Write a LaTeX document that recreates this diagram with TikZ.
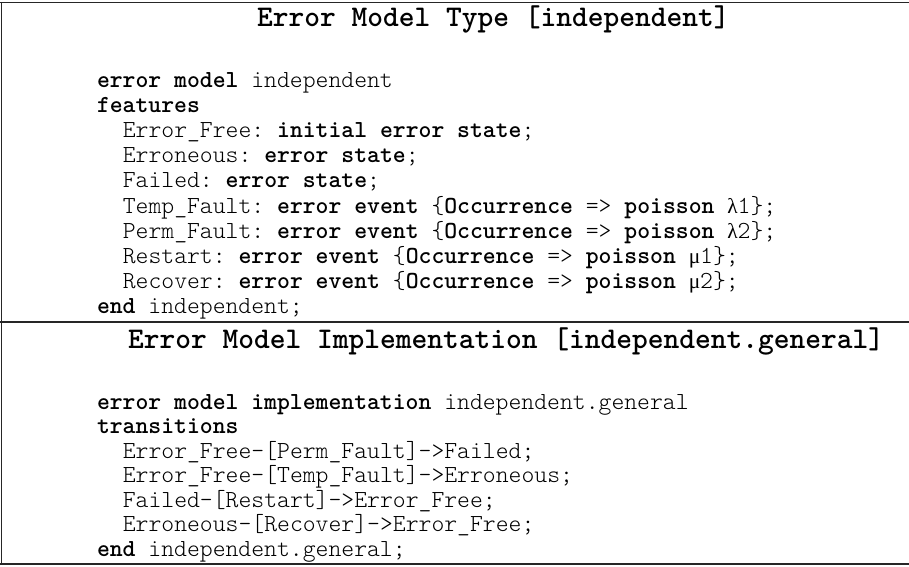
\documentclass[tikz,border=0pt]{standalone}
\usepackage{fontspec}
\setmonofont{lmmonolt10-regular.otf}[BoldFont=lmmonolt10-bold.otf]
\newfontfamily\greekfont{Liberation Serif}
\newcommand{\kw}[1]{\textbf{#1}}
\newcommand{\gk}[1]{{\greekfont\fontsize{21.4}{24}\selectfont #1}}
\tikzset{
  codeline/.style={anchor=base west, inner sep=0pt, outer sep=0pt,
    font=\ttfamily\fontsize{24.5}{28}\selectfont},
  titleline/.style={anchor=base west, inner sep=0pt, outer sep=0pt,
    font=\ttfamily\fontsize{30}{34}\selectfont\bfseries},
  rule/.style={line width=1.4pt, draw=black!85},
  siderule/.style={line width=1pt, draw=black!85}
}
\begin{document}
\begin{tikzpicture}[x=1pt,y=-1pt]
  \useasboundingbox (0,0) rectangle (909,566);
  % frame: top, separator, bottom and left edge
  \coordinate (tl) at (0,2.5);
  \coordinate (tr) at (909,2.5);
  \coordinate (ml) at (0,322);
  \coordinate (mr) at (909,322);
  \coordinate (bl) at (0,564);
  \coordinate (br) at (909,564);
  \coordinate (lt) at (1,2);
  \coordinate (lb) at (1,565);
  \draw[rule] (tl) -- (tr);
  \draw[rule] (ml) -- (mr);
  \draw[rule] (bl) -- (br);
  \draw[siderule] (lt) -- (lb);

  % error model type
  \node[titleline] (t1) at (257,26) {Error Model Type [independent]};
  \def\xa{97}\def\xb{122.8}\def\ya{87}\def\dy{25.2}
  \node[codeline] (a1) at (\xa,\ya) {\kw{error model} independent};
  \node[codeline] (a2) at (\xa,\ya+\dy) {\kw{features}};
  \node[codeline] (a3) at (\xb,\ya+2*\dy) {Error\_Free: \kw{initial error state};};
  \node[codeline] (a4) at (\xb,\ya+3*\dy) {Erroneous: \kw{error state};};
  \node[codeline] (a5) at (\xb,\ya+4*\dy) {Failed: \kw{error state};};
  \node[codeline] (a6) at (\xb,\ya+5*\dy) {Temp\_Fault: \kw{error event} \{\kw{Occurrence} => \kw{poisson} \gk{λ}1\};};
  \node[codeline] (a7) at (\xb,\ya+6*\dy) {Perm\_Fault: \kw{error event} \{\kw{Occurrence} => \kw{poisson} \gk{λ}2\};};
  \node[codeline] (a8) at (\xb,\ya+7*\dy) {Restart: \kw{error event} \{\kw{Occurrence} => \kw{poisson} \gk{μ}1\};};
  \node[codeline] (a9) at (\xb,\ya+8*\dy) {Recover: \kw{error event} \{\kw{Occurrence} => \kw{poisson} \gk{μ}2\};};
  \node[codeline] (a10) at (\xa,\ya+9*\dy) {\kw{end} independent;};

  % error model implementation
  \node[titleline] (t2) at (128,348) {Error Model Implementation [independent.general]};
  \def\yb{409}\def\ey{24.5}
  \node[codeline] (b1) at (\xa,\yb) {\kw{error model implementation} independent.general};
  \node[codeline] (b2) at (\xa,\yb+\ey) {\kw{transitions}};
  \node[codeline] (b3) at (\xb,\yb+2*\ey) {Error\_Free-[Perm\_Fault]->Failed;};
  \node[codeline] (b4) at (\xb,\yb+3*\ey) {Error\_Free-[Temp\_Fault]->Erroneous;};
  \node[codeline] (b5) at (\xb,\yb+4*\ey) {Failed-[Restart]->Error\_Free;};
  \node[codeline] (b6) at (\xb,\yb+5*\ey) {Erroneous-[Recover]->Error\_Free;};
  \node[codeline] (b7) at (\xa,\yb+6*\ey) {\kw{end} independent.general;};
\end{tikzpicture}
\end{document}
